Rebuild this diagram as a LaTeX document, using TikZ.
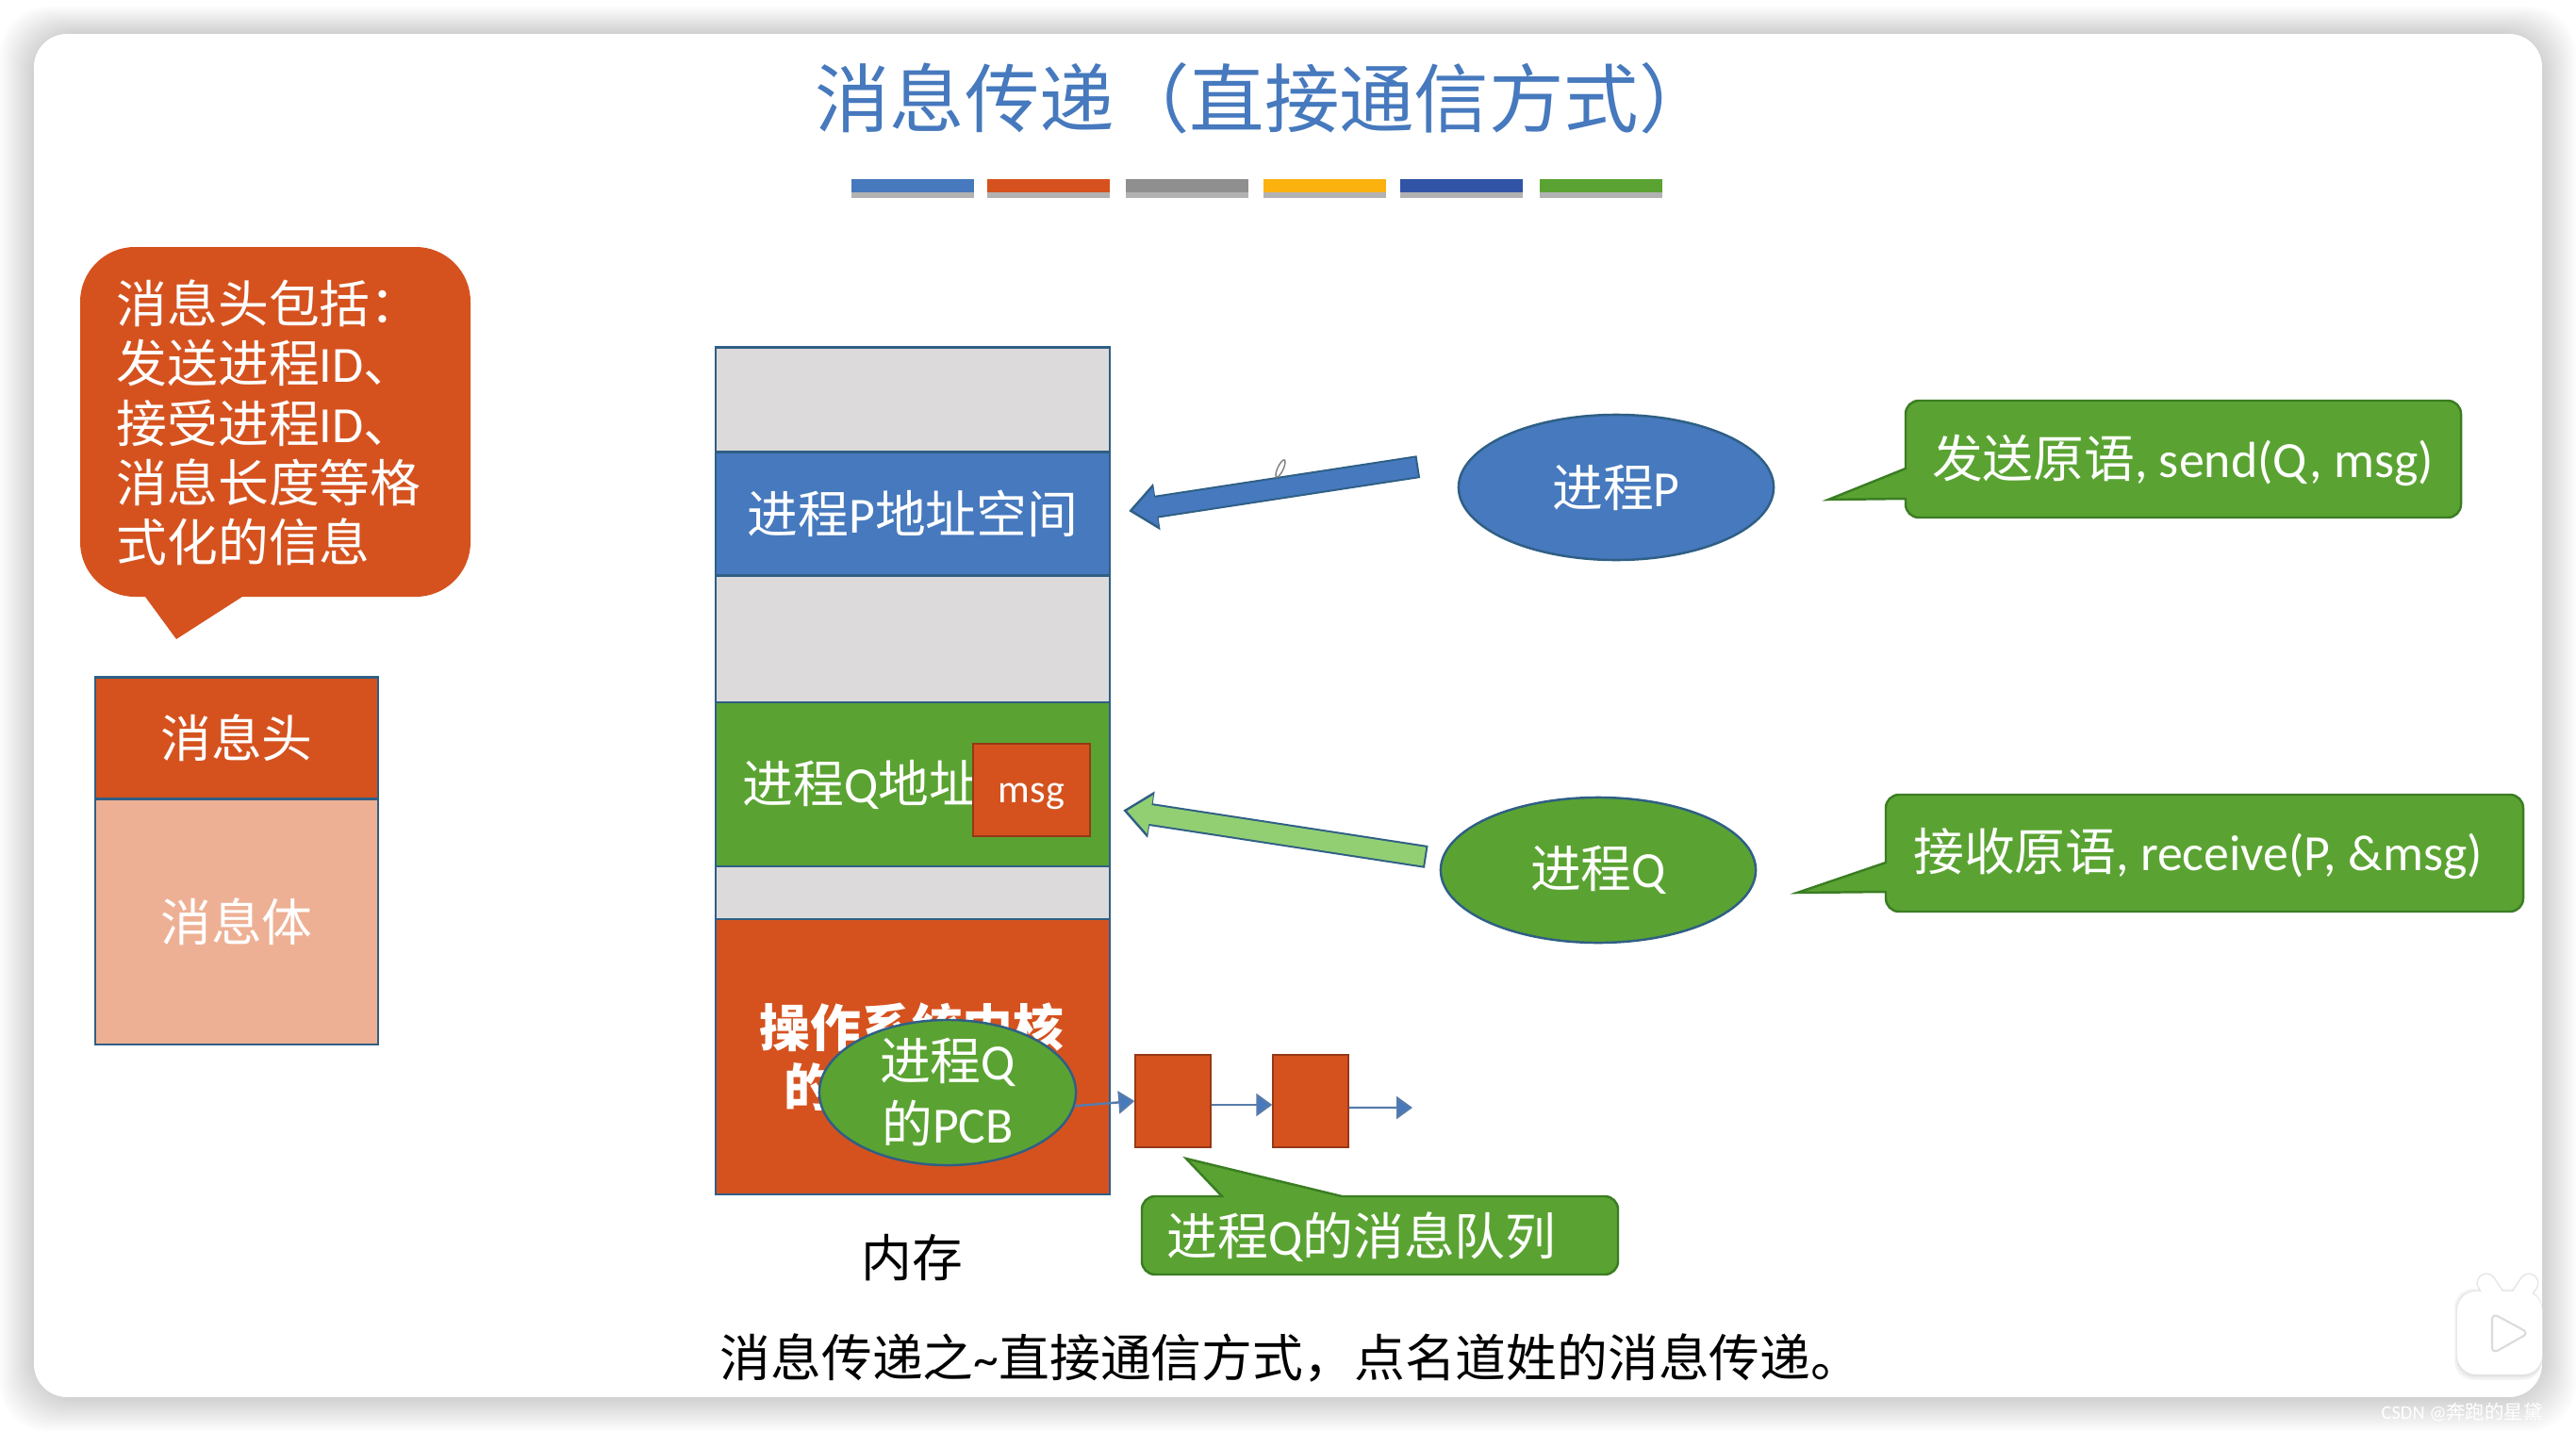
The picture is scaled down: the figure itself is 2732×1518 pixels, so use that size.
\documentclass[tikz,border=0pt]{standalone}
\usepackage{xcolor}
\usepackage{fontspec}
\usepackage{tikz}
\usetikzlibrary{arrows.meta, positioning, shapes.geometric}
\setmainfont{Carlito}
\newfontfamily\cjk{Noto Sans CJK SC}
\newcommand{\zh}[1]{{\cjk #1}}
\definecolor{slideblue}{HTML}{4679BD}
\definecolor{slideorange}{HTML}{D5521F}
\definecolor{slidegreen}{HTML}{5AA332}
\definecolor{slidegray}{HTML}{DCDADB}
\definecolor{lineblue}{HTML}{2F5F85}
\definecolor{linegreen}{HTML}{3B7D23}
\definecolor{lightorange}{HTML}{EEB094}
\definecolor{lightgreen}{HTML}{92CF73}
\definecolor{bargray}{HTML}{8F8F8F}
\definecolor{baryellow}{HTML}{FBB20F}
\definecolor{bardark}{HTML}{3154A6}
\tikzset{
  seg/.style={draw=lineblue, line width=0.7pt, minimum width=4.18cm, inner sep=0pt, text=white, font=\fontsize{15.3}{18}\selectfont},
  proc/.style={ellipse, draw=lineblue, line width=0.7pt, minimum width=3.34cm, minimum height=1.54cm, inner sep=0pt, text=white, font=\fontsize{15.3}{18}\selectfont},
  bar/.style={minimum height=0.14cm, minimum width=1.3cm, inner sep=0pt},
  calltext/.style={text=white, font=\fontsize{15.3}{18}\selectfont, inner sep=0pt},
  callshape/.style={fill=slidegreen, draw=linegreen, line width=0.7pt},
  bigarrow/.style={line width=#1},
  qbox/.style={fill=slideorange, draw=slideorange!70!black, line width=0.4pt, minimum width=0.8cm, minimum height=0.98cm, inner sep=0pt},
  qarrow/.style={-{Triangle[length=0.17cm, width=0.24cm, fill=slideblue]}, draw=slideblue!70!gray, line width=0.7pt}
}

\begin{document}
\begin{tikzpicture}[x=0.01cm, y=-0.01cm]
\useasboundingbox (0,0) rectangle (2732,1518);
% shadow and card
\foreach \i in {1,...,18} {
  \fill[black!\i, rounded corners=0.5cm] ({36-(19-\i)*2},{36-(19-\i)*1.6}) rectangle ({2696+(19-\i)*2},{1482+(19-\i)*2});
}
\fill[white, rounded corners=0.35cm] (36,36) rectangle (2696,1482);

% title
\node[text=slideblue, font=\fontsize{22.6}{26}\selectfont\cjk] (title) at (1341,104) {消息传递（直接通信方式）};
\foreach \x in {968,1112,1259,1405,1550,1698}
  \fill[black!30] ({\x-65},196) rectangle ({\x+65},210);
\node[bar, fill=slideblue] (bara) at (968,197) {};
\node[bar, fill=slideorange] (barb) at (1112,197) {};
\node[bar, fill=bargray] (barc) at (1259,197) {};
\node[bar, fill=baryellow] (bard) at (1405,197) {};
\node[bar, fill=bardark] (bare) at (1550,197) {};
\node[bar, fill=slidegreen] (barf) at (1698,197) {};

% left side
\fill[slideorange] (154,633) -- (187,678) -- (257,633) [rounded corners=0.58cm] -- (499,633) -- (499,262) -- (85,262) -- (85,633) [sharp corners] -- cycle;
\node[calltext, align=left, anchor=north west, font=\fontsize{15.3}{18}\selectfont\cjk] (note) at (123,296) {消息头包括：\\发送进程\textrm{ID}、\\接受进程\textrm{ID}、\\消息长度等格\\式化的信息};
\node[seg, fill=slideorange, minimum width=3cm, minimum height=1.29cm] (head) at (251,783) {\zh{消息头}};
\node[seg, fill=lightorange, minimum width=3cm, minimum height=2.6cm] (body) at (251,978) {\zh{消息体}};

% memory column
\node[seg, fill=slidegray, minimum height=1.11cm] (sega) at (968,424) {};
\node[seg, fill=slideblue, minimum height=1.31cm] (segp) at (968,545) {\zh{进程}P\zh{地址空间}};
\node[seg, fill=slidegray, minimum height=1.34cm] (segb) at (968,678) {};
\node[seg, fill=slidegreen, minimum height=1.74cm] (segq) at (968,832) {};
\node[seg, fill=slidegray, minimum height=0.56cm] (segc) at (968,947) {};
\node[seg, fill=slideorange, minimum height=2.92cm] (segk) at (968,1121) {};
\node[calltext, anchor=west] (qtext) at (787,832) {\zh{进程}Q\zh{地址}};
\node[qbox, minimum width=1.24cm, minimum height=0.98cm] (msg) at (1094,838) {};
\node[calltext, font=\fontsize{12}{14}\selectfont] (msgtext) at (1094,845) {msg};
\node[calltext, font=\fontsize{15.3}{18}\selectfont\bfseries\cjk] (kerna) at (967,1090) {操作系统内核};
\node[calltext, font=\fontsize{15.3}{18}\selectfont\bfseries\cjk, anchor=west] (kernb) at (831,1153) {的};
\node[proc, fill=slidegreen, minimum width=2.72cm] (pcb) at (1005,1159) {};
\node[calltext] (pcba) at (1005,1127) {\zh{进程}Q};
\node[calltext] (pcbb) at (1005,1192) {\zh{的}PCB};
\node[font=\fontsize{15.3}{18}\selectfont\cjk] (mem) at (967,1334) {内存};

% queue
\node[qbox] (qa) at (1244,1168) {};
\node[qbox] (qb) at (1390,1168) {};
\coordinate (qend) at (1498,1175);
\draw[qarrow] (pcb.-6) -- (qa.west);
\draw[qarrow] ([yshift=-0.04cm]qa.east) -- ([yshift=-0.04cm]qb.west);
\draw[qarrow] ([yshift=-0.07cm]qb.east) -- (qend);
\draw[callshape] (1296,1269) -- (1258,1229) -- (1423,1269) [rounded corners=0.14cm] -- (1716,1269) -- (1716,1352) -- (1211,1352) -- (1211,1269) [sharp corners] -- cycle;
\node[calltext] (qlabel) at (1444,1312) {\zh{进程}Q\zh{的消息队列}};

% processes
\node[proc, fill=slideblue] (procp) at (1714,517) {\zh{进程}P};
\node[proc, fill=slidegreen] (procq) at (1695,923) {\zh{进程}Q};
\draw[lineblue, bigarrow=0.24cm, shorten <=0.55cm, shorten >=0.19cm, -{Triangle[length=0.3cm, width=0.48cm]}] (procp.169) -- (segp.east);
\draw[slideblue, bigarrow=0.2cm, shorten <=0.57cm, shorten >=0.23cm, -{Triangle[length=0.25cm, width=0.4cm]}] (procp.169) -- (segp.east);
\draw[lineblue, bigarrow=0.24cm, shorten <=0.16cm, shorten >=0.13cm, -{Triangle[length=0.3cm, width=0.48cm]}] (procq.176) -- ([yshift=-0.256cm]segq.east);
\draw[lightgreen, bigarrow=0.2cm, shorten <=0.18cm, shorten >=0.17cm, -{Triangle[length=0.25cm, width=0.4cm]}] (procq.176) -- ([yshift=-0.256cm]segq.east);
\node[ellipse, draw=black!50, line width=0.4pt, minimum width=0.06cm, minimum height=0.2cm, inner sep=0pt, rotate=-25] (pen) at (1358,497) {};

% primitives
\draw[callshape] (2021,497) -- (1939,530) -- (2021,529) [rounded corners=0.14cm] -- (2021,549) -- (2610,549) -- (2610,425) -- (2021,425) [sharp corners] -- cycle;
\node[calltext] (send) at (2315,488) {\zh{发送原语}, send(Q, msg)};
\draw[callshape] (2000,915) -- (1906,947) -- (2000,946) [rounded corners=0.14cm] -- (2000,967) -- (2676,967) -- (2676,843) -- (2000,843) [sharp corners] -- cycle;
\node[calltext] (recv) at (2331,906) {\zh{接收原语}, receive(P, \&msg)};

% bottom line
\node[font=\fontsize{15.3}{18}\selectfont\cjk] (caption) at (1369,1440) {消息传递之\textrm{\~{}}直接通信方式，点名道姓的消息传递。};

% player mark
\foreach \i in {3,6,9,12} {
  \fill[black!\i, rounded corners=0.2cm] ({2606-(12-\i)/3},{1370-(12-\i)/3}) rectangle (2696,{1458+(15-\i)/2});
}
\draw[black!10, line width=2.1mm, line cap=round] (2637,1361) -- (2647,1376);
\draw[black!10, line width=2.1mm, line cap=round] (2682,1361) -- (2672,1376);
\draw[white, line width=1.8mm, line cap=round] (2637,1361) -- (2647,1376);
\draw[white, line width=1.8mm, line cap=round] (2682,1361) -- (2672,1376);
\fill[white, rounded corners=0.2cm] (2606,1370) rectangle (2696,1458);
\draw[black!14, fill=white, rounded corners=0.07cm, line width=0.6pt] (2643,1393) -- (2682,1414) -- (2643,1436) -- cycle;
\node[text=white, font=\fontsize{5.8}{7}\selectfont, anchor=west, inner sep=0pt] (mark) at (2525,1498) {CSDN @\zh{奔跑的星黛}};
\end{tikzpicture}
\end{document}
